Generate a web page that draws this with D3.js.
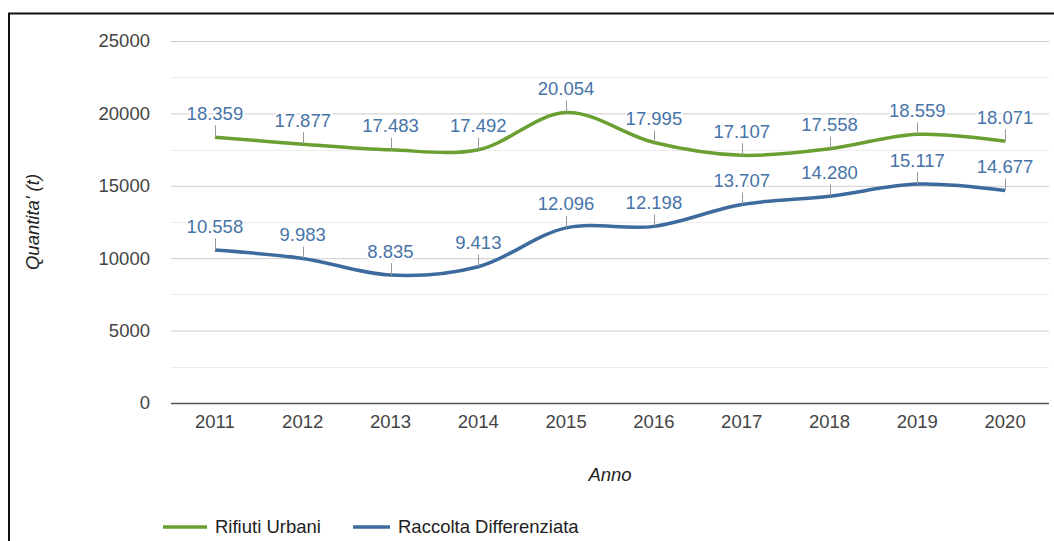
<!DOCTYPE html>
<html>
<head>
<meta charset="utf-8">
<script src="https://cdn.jsdelivr.net/npm/d3@7"></script>
<style>
  html, body { margin: 0; padding: 0; background: #fff; }
  svg { display: block; font-family: Arial, "Liberation Sans", sans-serif; }
</style>
</head>
<body>
<svg id="chart" width="1054" height="541"></svg>
<script>
// Anni e quantità (tonnellate)
const years = ["2011","2012","2013","2014","2015","2016","2017","2018","2019","2020"];
const rifiutiUrbani = [18359, 17877, 17483, 17492, 20054, 17995, 17107, 17558, 18559, 18071];
const raccoltaDifferenziata = [10558, 9983, 8835, 9413, 12096, 12198, 13707, 14280, 15117, 14677];
const yTicks = [0, 5000, 10000, 15000, 20000, 25000];
const yMinorTicks = [2500, 7500, 12500, 17500, 22500];

const seriesDefs = [
  { name: "Rifiuti Urbani", values: rifiutiUrbani, color: "#6a9f31" },
  { name: "Raccolta Differenziata", values: raccoltaDifferenziata, color: "#3e6b9e" }
];

const FS = 18.5;
const svg = d3.select("#chart");
const W = 1054, H = 541;
const plot = { left: 171, right: 1049, top: 41, bottom: 403 };

// frame around the chart area
svg.append("path")
  .attr("d", `M9,${H} L9,13.5 L${W},13.5`)
  .attr("fill", "none").attr("stroke", "#111").attr("stroke-width", 2);

const x = d3.scaleBand().domain(years).range([plot.left, plot.right]);
const y = d3.scaleLinear().domain([0, 25000]).range([plot.bottom, plot.top]);
const cx = d => x(d) + x.bandwidth() / 2;

// minor gridlines
svg.append("g").selectAll("line").data(yMinorTicks).join("line")
  .attr("x1", plot.left).attr("x2", plot.right)
  .attr("y1", d => Math.round(y(d)) + 0.5).attr("y2", d => Math.round(y(d)) + 0.5)
  .attr("stroke", "#ececec").attr("stroke-width", 1);

// y axis with major gridlines
const yAxis = svg.append("g")
  .attr("transform", `translate(${plot.left},0)`)
  .call(d3.axisLeft(y).tickValues(yTicks).tickSize(-(plot.right - plot.left)).tickPadding(21).tickFormat(d3.format("d")));
yAxis.select(".domain").remove();
yAxis.selectAll(".tick line")
  .attr("stroke", d => d === 0 ? "#555" : "#cccccc")
  .attr("stroke-width", d => d === 0 ? 1.5 : 1);
yAxis.selectAll(".tick text")
  .attr("fill", "#444").attr("font-size", FS).attr("font-family", "Arial, 'Liberation Sans', sans-serif");

// x axis labels
const xAxis = svg.append("g")
  .attr("transform", `translate(0,${plot.bottom})`)
  .call(d3.axisBottom(x).tickSize(0).tickPadding(12));
xAxis.select(".domain").remove();
xAxis.selectAll(".tick text")
  .attr("fill", "#444").attr("font-size", FS).attr("font-family", "Arial, 'Liberation Sans', sans-serif");

// axis titles
svg.append("text")
  .attr("transform", `translate(39,222) rotate(-90)`)
  .attr("text-anchor", "middle")
  .attr("font-size", FS).attr("font-style", "italic").attr("fill", "#222")
  .text("Quantita' (t)");
svg.append("text")
  .attr("x", 610).attr("y", 481)
  .attr("text-anchor", "middle")
  .attr("font-size", FS).attr("font-style", "italic").attr("fill", "#222")
  .text("Anno");

// series lines
const line = d3.line()
  .x((d, i) => cx(years[i]))
  .y(d => y(d))
  .curve(d3.curveCatmullRom.alpha(0.5));

const lines = svg.append("g");
seriesDefs.forEach(s => {
  lines.append("path")
    .datum(s.values)
    .attr("d", line)
    .attr("fill", "none")
    .attr("stroke", s.color)
    .attr("stroke-width", 3.5)
    .attr("stroke-linecap", "butt");
});

// value annotations with stems
const fmt = v => d3.format(",")(v).replace(/,/g, ".");
const ann = svg.append("g");
seriesDefs.forEach(s => {
  s.values.forEach((v, i) => {
    const px = cx(years[i]), py = y(v);
    ann.append("line")
      .attr("x1", Math.round(px) + 0.5).attr("x2", Math.round(px) + 0.5)
      .attr("y1", py).attr("y2", py - 12)
      .attr("stroke", "#999").attr("stroke-width", 1);
    ann.append("text")
      .attr("x", px).attr("y", py - 17.5)
      .attr("text-anchor", "middle")
      .attr("font-size", FS)
      .attr("fill", "#4673a8")
      .attr("stroke", "#fff").attr("stroke-width", 4).attr("paint-order", "stroke")
      .attr("stroke-linejoin", "round")
      .text(fmt(v));
  });
});

// legend
const legend = svg.append("g").attr("transform", "translate(0,527)");
const legendItems = [
  { s: seriesDefs[0], x0: 163, x1: 207, tx: 215 },
  { s: seriesDefs[1], x0: 353, x1: 390, tx: 398 }
];
legendItems.forEach(it => {
  legend.append("line")
    .attr("x1", it.x0).attr("x2", it.x1).attr("y1", 0).attr("y2", 0)
    .attr("stroke", it.s.color).attr("stroke-width", 3.5);
  legend.append("text")
    .attr("x", it.tx).attr("y", 0).attr("dy", "0.35em")
    .attr("font-size", FS).attr("fill", "#222")
    .text(it.s.name);
});
</script>
</body>
</html>
